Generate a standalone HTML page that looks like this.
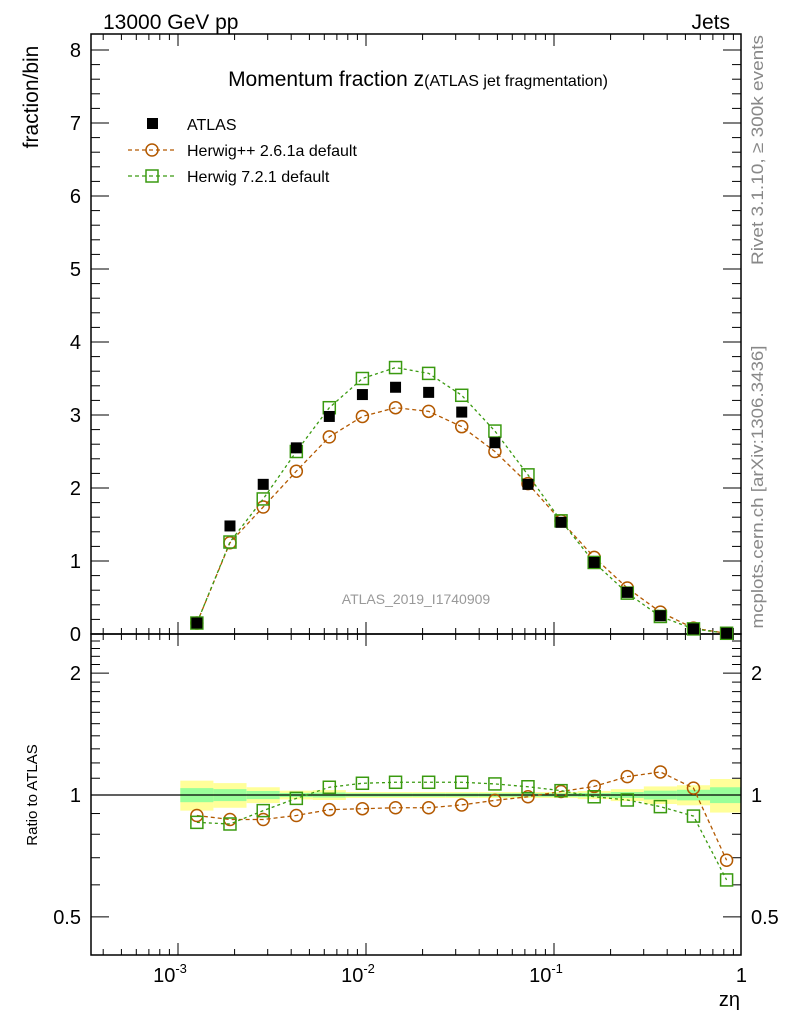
<!DOCTYPE html>
<html><head><meta charset="utf-8"><style>
body{margin:0;background:#fff}
svg text{font-family:"Liberation Sans",sans-serif}
</style></head><body>
<svg id="chart" width="786" height="1024" xmlns="http://www.w3.org/2000/svg">
<g id="bands"></g>
<g id="axes"></g>
<g id="marks"></g>
<text x="103" y="29" font-size="21">13000 GeV pp</text>
<text x="730" y="29" font-size="21" text-anchor="end">Jets</text>
<text transform="translate(38,97) rotate(-90)" font-size="21" text-anchor="middle">fraction/bin</text>
<text transform="translate(37,795) rotate(-90)" font-size="15" text-anchor="middle">Ratio to ATLAS</text>
<text x="740" y="1006" font-size="20" text-anchor="end">zη</text>
<text x="418" y="86" font-size="21" text-anchor="middle">Momentum fraction z<tspan font-size="16">(ATLAS jet fragmentation)</tspan></text>
<text x="416" y="604" font-size="14" fill="#999" text-anchor="middle">ATLAS_2019_I1740909</text>
<text transform="translate(763,150) rotate(-90)" font-size="17" fill="#888" text-anchor="middle" textLength="230" lengthAdjust="spacingAndGlyphs">Rivet 3.1.10, ≥ 300k events</text>
<text transform="translate(763,487) rotate(-90)" font-size="17" fill="#888" text-anchor="middle" textLength="283" lengthAdjust="spacingAndGlyphs">mcplots.cern.ch [arXiv:1306.3436]</text>
<g>
<rect x="147" y="118" width="11" height="11" fill="#000"/>
<text x="187" y="130" font-size="16">ATLAS</text>
<line x1="128" y1="150" x2="175" y2="150" stroke="#b35900" stroke-dasharray="4,3" stroke-width="1.2"/>
<circle cx="152" cy="150" r="6" fill="none" stroke="#b35900" stroke-width="1.5"/>
<text x="187" y="156" font-size="16">Herwig++ 2.6.1a default</text>
<line x1="128" y1="176" x2="175" y2="176" stroke="#3a9a10" stroke-dasharray="4,3" stroke-width="1.2"/>
<rect x="146" y="170" width="12" height="12" fill="none" stroke="#3a9a10" stroke-width="1.5"/>
<text x="187" y="182" font-size="16">Herwig 7.2.1 default</text>
</g>
</svg>
<script>
const xCenters=[0.00126,0.00189,0.00284,0.00426,0.00638,0.00957,0.01436,0.02154,0.0323,0.0485,0.0727,0.109,0.1636,0.2454,0.368,0.552,0.828];
const atlas=[0.15,1.48,2.05,2.55,2.98,3.28,3.38,3.31,3.04,2.62,2.05,1.53,0.98,0.57,0.25,0.07,0.01];
const herwigpp=[0.15,1.25,1.74,2.23,2.70,2.98,3.10,3.05,2.84,2.50,2.06,1.55,1.05,0.63,0.30,0.08,0.01];
const herwig7=[0.15,1.26,1.85,2.50,3.10,3.50,3.65,3.57,3.27,2.78,2.18,1.55,0.98,0.56,0.24,0.07,0.01];
const ratioPP=[0.89,0.87,0.87,0.89,0.92,0.925,0.93,0.93,0.945,0.97,0.99,1.02,1.05,1.11,1.14,1.04,0.69];
const ratio7=[0.856,0.848,0.915,0.981,1.045,1.069,1.075,1.075,1.075,1.065,1.048,1.025,0.99,0.972,0.936,0.887,0.617];
const errTotal=[0.085,0.07,0.045,0.025,0.028,0.017,0.017,0.017,0.017,0.017,0.017,0.017,0.023,0.034,0.05,0.057,0.095];
const errStat=[0.04,0.034,0.023,0.012,0.014,0.01,0.01,0.01,0.01,0.01,0.01,0.01,0.012,0.017,0.025,0.03,0.045];
const yTicks=[0,1,2,3,4,5,6,7,8];
const rTicks=[0.5,1,2];
const xTickLabels=["10","10","10","1"];
const xTickExp=["-3","-2","-1",""];

const NS="http://www.w3.org/2000/svg";
const L=91,R=741,T=34,MB=634,RB=955;
const X=v=>742+Math.log10(v)*188;
const Y=v=>634-v*73;
const RY=v=>795-Math.log10(v)*405;
function mk(p,tag,a){const e=document.createElementNS(NS,tag);for(const k in a)e.setAttribute(k,a[k]);p.appendChild(e);return e;}
const axes=document.getElementById('axes'),marks=document.getElementById('marks'),bands=document.getElementById('bands');

const sq=Math.sqrt(1.5);
for(let i=0;i<xCenters.length;i++){
  const x0=Math.max(X(xCenters[i]/sq),L),x1=Math.min(X(xCenters[i]*sq),R);
  const y=mk(bands,'rect',{x:x0,y:RY(1+errTotal[i]),width:x1-x0,height:RY(1-errTotal[i])-RY(1+errTotal[i]),fill:'#ffff99'});
  
  
  const g=mk(bands,'rect',{x:x0,y:RY(1+errStat[i]),width:x1-x0,height:RY(1-errStat[i])-RY(1+errStat[i]),fill:'#99ff99'});
  
  
}
mk(axes,'line',{x1:L,y1:RY(1),x2:R,y2:RY(1),stroke:'#000','stroke-width':1.2});
mk(axes,'rect',{x:L,y:T,width:R-L,height:MB-T,fill:'none',stroke:'#000','stroke-width':1.5});
mk(axes,'rect',{x:L,y:MB,width:R-L,height:RB-MB,fill:'none',stroke:'#000','stroke-width':1.5});
for(let d=-4;d<=0;d++){for(let m=1;m<10;m++){const v=m*Math.pow(10,d);const x=X(v);if(x<L||x>R)continue;const len=m==1?12:6;
 for(const [b,t] of [[MB,T],[RB,MB]]){mk(axes,'line',{x1:x,y1:b,x2:x,y2:b-len,stroke:'#000'});mk(axes,'line',{x1:x,y1:t,x2:x,y2:t+len,stroke:'#000'});}}}
[0.001,0.01,0.1,1].forEach((v,i)=>{const t=mk(axes,'text',{x:X(v)-(i<3?8:0),y:982,'font-size':20,'text-anchor':i<3?'middle':'end'});
 
 
 t.textContent=xTickLabels[i];if(xTickExp[i]){const s=mk(t,'tspan',{dy:-9,'font-size':13});s.textContent=xTickExp[i];}else t.setAttribute('x',X(v)+5);});
for(let v=0;v<=8.2;v+=0.2){const y=Y(v);if(y<T)break;const maj=Math.abs(v-Math.round(v))<1e-6;const len=maj?18:9;
 mk(axes,'line',{x1:L,y1:y,x2:L+len,y2:y,stroke:'#000'});mk(axes,'line',{x1:R,y1:y,x2:R-len,y2:y,stroke:'#000'});}
yTicks.forEach(v=>{const t=mk(axes,'text',{x:81,y:Y(v)+7,'font-size':20,'text-anchor':'end'});
 
 
 t.textContent=v;});
for(let v=0.4;v<=2.5;v+=0.1){const y=RY(v);if(y<MB||y>RB)continue;const maj=rTicks.some(r=>Math.abs(r-v)<1e-6);const len=maj?18:9;
 mk(axes,'line',{x1:L,y1:y,x2:L+len,y2:y,stroke:'#000'});mk(axes,'line',{x1:R,y1:y,x2:R-len,y2:y,stroke:'#000'});}
rTicks.forEach(v=>{for(const [x,a] of [[81,'end'],[751,'start']]){const t=mk(axes,'text',{x:x,y:RY(v)+7,'font-size':20,'text-anchor':a});
 
 
 t.textContent=v;}});
function series(vals,yf,color,shape,name,dash){
 const pts=vals.map((v,i)=>X(xCenters[i])+','+yf(v)).join(' ');
 const pl=mk(marks,'polyline',{points:pts,fill:'none',stroke:color,'stroke-width':1.3,'stroke-dasharray':dash});
 
 
 vals.forEach((v,i)=>{const x=X(xCenters[i]),y=yf(v);let e;
  if(shape=='c')e=mk(marks,'circle',{cx:x,cy:y,r:6,fill:'none',stroke:color,'stroke-width':1.5});
  else e=mk(marks,'rect',{x:x-6,y:y-6,width:12,height:12,fill:'none',stroke:color,'stroke-width':1.5});
  
  });
}
series(herwigpp,Y,'#b35900','c','herwigpp','4,3');
series(herwig7,Y,'#3a9a10','s','herwig7','3,3');
atlas.forEach((v,i)=>{const e=mk(marks,'rect',{x:X(xCenters[i])-5.5,y:Y(v)-5.5,width:11,height:11,fill:'#000'});
 
 });
series(ratioPP,RY,'#b35900','c','herwigpp-ratio','4,3');
series(ratio7,RY,'#3a9a10','s','herwig7-ratio','3,3');
</script>
</body></html>
